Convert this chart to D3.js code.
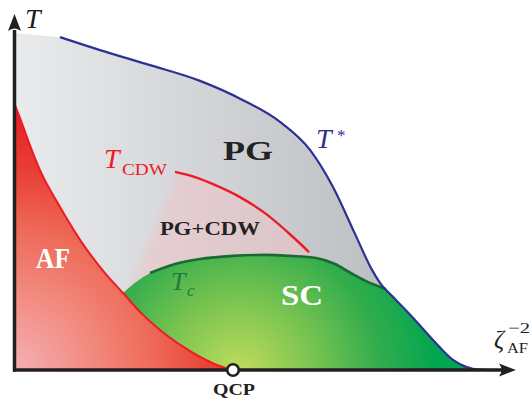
<!DOCTYPE html>
<html>
<head>
<meta charset="utf-8">
<script src="https://cdn.jsdelivr.net/npm/d3@7/dist/d3.min.js"></script>
<style>
html,body{margin:0;padding:0;background:#fff;}
svg{display:block;}
text{font-family:"Liberation Serif","Times New Roman",serif;}
</style>
</head>
<body>
<svg id="chart" width="532" height="401"></svg>
<script>
// ---- data (arbitrary units: doping-like x 0..100, temperature 0..100) ----
const pgTop = [0, 96.3];
const tStar = [[9.2,95.1],[17.2,91.4],[27.2,87.1],[37.2,82.6],[45.8,77.1],[53.2,70.9],[59.2,62.9],[63.8,52.3],[68.2,38.9],[71.6,28.6],[73.2,24.9],[76.2,20.3],[80.2,14.3],[83.8,8.6],[87.8,2.9],[90.4,0.9],[93.2,0.1],[96.2,0]];
const afLine = [[0,76.3],[1.2,72.0],[2.8,65.7],[5.2,57.1],[9.2,46.6],[14.6,34.3],[18.2,27.7],[21.8,22.0],[25.2,16.6],[29.2,11.4],[35.8,4.9],[40.2,1.7],[43.8,0]];
const tcLine = [[21.8,22.0],[24.2,24.9],[27.2,27.7],[32.2,30.3],[37.2,31.7],[43.8,32.6],[50.4,32.9],[55.2,32.6],[60.4,32.0],[64.2,30.3],[67.0,28.0],[70.4,25.4],[74.4,23.1]];
const tcdwLine = [[32.2,56.6],[36.2,55.1],[39.8,53.1],[45.2,49.4],[50.4,44.6],[55.8,38.0],[59.0,33.7]];
const qcpX = 43.8;

const svg = d3.select("#chart");
const x = d3.scaleLinear().domain([0,100]).range([14,514]);
const y = d3.scaleLinear().domain([0,100]).range([370,20]);

const defs = svg.append("defs");
const gg = defs.append("linearGradient").attr("id","gray").attr("gradientUnits","userSpaceOnUse")
  .attr("x1",x(0)).attr("y1",0).attr("x2",x(73)).attr("y2",0);
gg.append("stop").attr("offset",0).attr("stop-color","#eaebed");
gg.append("stop").attr("offset",1).attr("stop-color","#bdbfc3");
const ag = defs.append("radialGradient").attr("id","afg").attr("gradientUnits","userSpaceOnUse")
  .attr("cx",x(0)).attr("cy",y(0)).attr("r",255);
[[0,"#f5b0b6"],[0.3,"#f28b80"],[0.55,"#ee6a58"],[0.8,"#e83c33"],[1,"#e5232a"]].forEach(s=>ag.append("stop").attr("offset",s[0]).attr("stop-color",s[1]));
const sg = defs.append("radialGradient").attr("id","scg").attr("gradientUnits","userSpaceOnUse")
  .attr("cx",x(45)).attr("cy",y(-1)).attr("r",200);
[[0,"#c2dd5c"],[0.4,"#74c250"],[0.7,"#33ad4c"],[1,"#00a651"]].forEach(s=>sg.append("stop").attr("offset",s[0]).attr("stop-color",s[1]));
const p0 = [x(21.8), y(22)], p1 = [x(32.2), y(56.6)];
const ex = p1[0]-p0[0], ey = p1[1]-p0[1], el = Math.hypot(ex,ey);
const nx = -ey/el, ny = ex/el;
const mx = (p0[0]+p1[0])/2, my = (p0[1]+p1[1])/2;
const pg = defs.append("linearGradient").attr("id","pink").attr("gradientUnits","userSpaceOnUse")
  .attr("x1",mx-4*nx).attr("y1",my-4*ny).attr("x2",mx+12*nx).attr("y2",my+12*ny);
pg.append("stop").attr("offset",0).attr("stop-color","#f0c2c5").attr("stop-opacity",0);
pg.append("stop").attr("offset",1).attr("stop-color","#f0c2c5").attr("stop-opacity",0.5);

const line = d3.line().x(d=>x(d[0])).y(d=>y(d[1])).curve(d3.curveMonotoneX);
const area = d3.area().x(d=>x(d[0])).y1(d=>y(d[1])).y0(y(0)).curve(d3.curveMonotoneX);

// PG gray region (straight top-left edge, then T*)
const last = tStar[tStar.length-1];
const grayPath = "M"+x(0)+","+y(0)+"L"+x(pgTop[0])+","+y(pgTop[1])+line(tStar).replace(/^M/,"L")+"L"+x(last[0])+","+y(0)+"Z";
svg.append("path").attr("d", grayPath).attr("fill","url(#gray)");
// CDW pink region
const cdwPath = "M"+x(21.8)+","+y(0)+"L"+x(21.8)+","+y(22)+line(tcdwLine).replace(/^M/,"L")+"L"+x(59.0)+","+y(0)+"Z";
svg.append("path").attr("d", cdwPath).attr("fill","url(#pink)");
// SC region
const scUpper = tcLine.concat(tStar.filter(d=>d[0]>74.4));
svg.append("path").attr("d", area(scUpper)).attr("fill","url(#scg)");
// AF region
svg.append("path").attr("d", area(afLine)).attr("fill","url(#afg)");

// lines
svg.append("path").attr("d", line(afLine)).attr("fill","none").attr("stroke","#ed1c24").attr("stroke-width",2);
svg.append("path").attr("d", line(tcdwLine)).attr("fill","none").attr("stroke","#ed1c24").attr("stroke-width",2.4);
svg.append("path").attr("d", line(tcLine.slice(2))).attr("fill","none").attr("stroke","#1a6a34").attr("stroke-width",2.6);
svg.append("path").attr("d", line(tStar)).attr("fill","none").attr("stroke","#2e3192").attr("stroke-width",2.2);

// axes
const ax = "#231f20";
svg.append("line").attr("x1",x(0)+0.5).attr("y1",y(0)+1.5).attr("x2",x(0)+0.5).attr("y2",y(0)-340)
  .attr("stroke",ax).attr("stroke-width",3.5);
svg.append("line").attr("x1",x(0)-1).attr("y1",y(0)).attr("x2",x(0)+490).attr("y2",y(0))
  .attr("stroke",ax).attr("stroke-width",3.5);
const ty = y(0)-356, tx = x(0)+0.5;
svg.append("path").attr("d",`M${tx},${ty} L${tx+6.5},${ty+17} Q${tx},${ty+12} ${tx-6.5},${ty+17} Z`).attr("fill",ax);
const rx = x(0)+502, ry = y(0);
svg.append("path").attr("d",`M${rx},${ry} L${rx-17},${ry-6.5} Q${rx-12},${ry} ${rx-17},${ry+6.5} Z`).attr("fill",ax);

// QCP point
svg.append("circle").attr("cx",x(qcpX)).attr("cy",y(0)).attr("r",5.8).attr("fill","#fff").attr("stroke",ax).attr("stroke-width",2.6);

// labels
function txt(t, px, py, opts){
  const e = svg.append("text").attr("x",px).attr("y",py).text(t)
    .attr("font-size",opts.size).attr("fill",opts.fill||ax)
    .attr("font-style",opts.italic?"italic":"normal").attr("font-weight",opts.bold?"bold":"normal");
  if(opts.len) e.attr("textLength",opts.len).attr("lengthAdjust","spacingAndGlyphs");
  return e;
}
txt("T", 25, 28, {size:28, italic:true});
txt("T", 104, 168, {size:28, italic:true, fill:"#ed1c24"});
txt("CDW", 122, 175, {size:17, fill:"#ed1c24", len:45});
txt("PG", 223, 160, {size:28, bold:true, fill:"#222", len:50});
txt("T", 316, 148, {size:28, italic:true, fill:"#2e3192"});
txt("*", 337, 141, {size:17, fill:"#2e3192"});
txt("PG+CDW", 160, 235, {size:18, bold:true, fill:"#222", len:100});
txt("T", 171, 290, {size:26, italic:true, fill:"#1f7a3a"});
txt("c", 187, 296, {size:17, italic:true, fill:"#1f7a3a"});
txt("AF", 36, 268, {size:29, bold:true, fill:"#fff", len:34});
txt("SC", 281, 305, {size:29, bold:true, fill:"#fff", len:42});
txt("QCP", 213, 395, {size:16, bold:true, len:42});
txt("ζ", 494, 348, {size:25, italic:true});
txt("−2", 508, 333, {size:15, len:22});
txt("AF", 507, 353, {size:15, len:21});
</script>
</body>
</html>
